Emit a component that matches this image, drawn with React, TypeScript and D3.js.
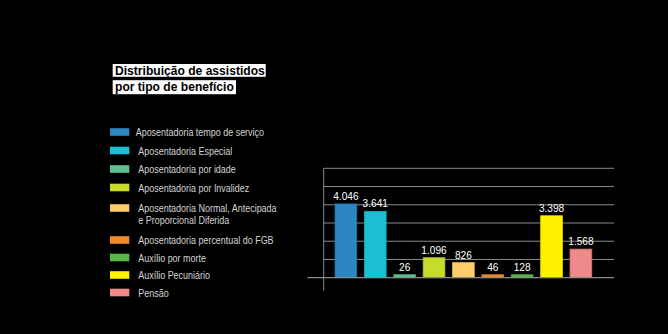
import React from "react";
import * as d3 from "d3";

const categories = [
  "Aposentadoria tempo de serviço",
  "Aposentadoria Especial",
  "Aposentadoria por idade",
  "Aposentadoria por Invalidez",
  "Aposentadoria Normal, Antecipada\ne Proporcional Diferida",
  "Aposentadoria percentual do FGB",
  "Auxílio por morte",
  "Auxílio Pecuniário",
  "Pensão",
];
const values = [4046, 3641, 26, 1096, 826, 46, 128, 3398, 1568];
const colors = [
  "#2b86c2",
  "#1ebfd5",
  "#5cc090",
  "#c6db2a",
  "#ffcd6a",
  "#f0882a",
  "#58b548",
  "#fff200",
  "#f08a8a",
];
const gridTicks = [0, 1000, 2000, 3000, 4000, 5000, 6000];
const titleLines = ["Distribuição de assistidos", "por tipo de benefício"];

const W = 668;
const H = 334;

function CText(props: {
  x: number;
  y: number;
  k: number;
  anchor?: string;
  size: number;
  fill: string;
  weight?: string;
  children: React.ReactNode;
}) {
  return (
    <g transform={`translate(${props.x},${props.y}) scale(${props.k},1)`}>
      <text
        x={0}
        y={0}
        textAnchor={props.anchor || "start"}
        fontSize={props.size}
        fontWeight={props.weight || "normal"}
        fill={props.fill}
      >
        {props.children}
      </text>
    </g>
  );
}

export default function App() {
  const x = d3
    .scaleBand<number>()
    .domain(d3.range(values.length))
    .range([331.2, 595.6])
    .paddingInner(0.26)
    .paddingOuter(0.13);
  const y = d3.scaleLinear().domain([0, 6000]).range([277.7, 168.3]);
  const fmt = d3
    .formatLocale({ decimal: ",", thousands: ".", grouping: [3], currency: ["R$", ""] })
    .format(",d");

  const legendY = [132, 150.5, 169, 187.5, 208, 240, 257.5, 275, 292.5];
  const font = "'Liberation Sans', Arial, sans-serif";
  const minH = 3;

  return (
    <svg
      width={W}
      height={H}
      style={{ position: "absolute", left: 0, top: 0, background: "#000" }}
      fontFamily={font}
    >
      <rect x={0} y={0} width={W} height={H} fill="#000" />
      {/* Title */}
      <g>
        <rect x={112.7} y={64} width={153} height={12.8} fill="#fff" />
        <rect x={112.7} y={80.2} width={123.3} height={14} fill="#fff" />
        {titleLines.map((t, i) => (
          <CText key={i} x={115} y={74.8 + i * 16.3} k={0.93} size={13} weight="bold" fill="#000">
            {t}
          </CText>
        ))}
      </g>
      {/* Legend */}
      <g>
        {categories.map((c, i) => (
          <g key={i}>
            <rect x={110} y={legendY[i] - 3.8} width={19.3} height={7.6} fill={colors[i]} />
            {c.split("\n").map((line, j) => (
              <CText
                key={j}
                x={i === 0 ? 135.7 : 138.3}
                y={legendY[i] + 4 + j * 12}
                k={0.8}
                size={11.2}
                fill="#d4d4d4"
              >
                {line}
              </CText>
            ))}
          </g>
        ))}
      </g>
      {/* Grid */}
      <g>
        {gridTicks.slice(1).map((t) => (
          <line key={t} x1={323.7} x2={614} y1={y(t)} y2={y(t)} stroke="#8a8a8a" strokeWidth={1} />
        ))}
        <line x1={323.7} x2={323.7} y1={y(6000)} y2={290.7} stroke="#8a8a8a" strokeWidth={1} />
      </g>
      {/* Bars */}
      <g>
        {values.map((v, i) => {
          const h = Math.max(y(0) - y(v), minH);
          const top = y(0) - h;
          return (
            <g key={i}>
              <rect
                x={x(i)!}
                y={top}
                width={x.bandwidth()}
                height={h}
                fill={colors[i]}
                stroke={d3.color(colors[i])!.darker(0.4).toString()}
                strokeWidth={0.8}
              />
              <CText
                x={x(i)! + x.bandwidth() / 2}
                y={top - 4}
                k={0.88}
                anchor="middle"
                size={11.5}
                fill="#fff"
              >
                {fmt(v)}
              </CText>
            </g>
          );
        })}
      </g>
      <line x1={307.3} x2={614} y1={y(0)} y2={y(0)} stroke="#8a8a8a" strokeWidth={1.2} />
    </svg>
  );
}
